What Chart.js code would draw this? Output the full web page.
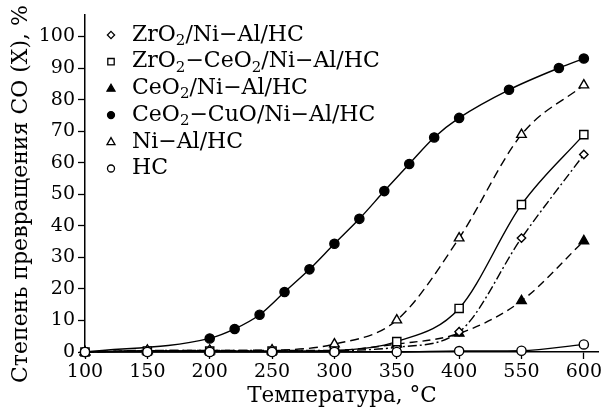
<!DOCTYPE html>
<html>
<head>
<meta charset="utf-8">
<script src="https://cdn.jsdelivr.net/npm/chart.js@4.4.0/dist/chart.umd.min.js"></script>
<style>
  html, body { margin: 0; padding: 0; background: #fff; }
</style>
</head>
<body>
<canvas id="chart" width="606" height="410"></canvas>
<script>
// axis positions (the axis jumps from 400 to 550, so positions are evenly spaced)
const tickPos = [100, 150, 200, 250, 300, 350, 400, 450, 500];
const tickLabels = ['100', '150', '200', '250', '300', '350', '400', '550', '600'];
const yTicks = [0, 10, 20, 30, 40, 50, 60, 70, 80, 90, 100];

const basePos = [100, 150, 200, 250, 300, 350, 400, 450, 500];
const zrO2 = [0, 0.4, 0.5, 0.5, 0.5, 1.5, 6.4, 36.1, 62.6];
const zrCeO2 = [0, 0.3, 0.3, 0.3, 0.5, 3.3, 13.8, 46.7, 68.9];
const ceO2 = [0, 0.3, 0.3, 0.3, 0.5, 2.5, 5.9, 16.2, 35.2];
const niAl = [0, 0.5, 0.5, 0.6, 2.5, 10.1, 36.1, 68.9, 84.6];
const hc = [0, 0, 0, 0, 0, 0, 0.3, 0.4, 2.4];

const cuoPos = [100, 200, 220, 240, 260, 280, 300, 320, 340, 360, 380, 400, 440, 480, 500];
const ceCuO = [0, 4.3, 7.3, 11.8, 19.0, 26.2, 34.3, 42.2, 51.0, 59.6, 68.0, 74.2, 83.1, 90.0, 93.0];

const seriesNames = ['ZrO₂/Ni−Al/HC', 'ZrO₂−CeO₂/Ni−Al/HC', 'CeO₂/Ni−Al/HC',
                     'CeO₂−CuO/Ni−Al/HC', 'Ni−Al/HC', 'HC'];
const yTitle = 'Степень превращения CO (X), %';

const FONT = 'DejaVu Serif';

function pts(xs, ys) {
  return xs.map((x, i) => ({x: x, y: ys[i]}));
}

function series(i, xs, ys, style, radius, filled, dash, order) {
  return {
    label: seriesNames[i],
    data: pts(xs, ys),
    borderColor: '#000',
    borderWidth: 1.4,
    borderDash: dash,
    pointStyle: style,
    pointRadius: radius,
    pointBorderWidth: 1.4,
    pointBorderColor: '#000',
    pointBackgroundColor: filled ? '#000' : '#fff',
    cubicInterpolationMode: 'monotone',
    fill: false,
    clip: false,
    order: order
  };
}

// legend inside the plot (with real subscripts) + y axis title
const legendInside = {
  id: 'legendInside',
  afterDraw(chart) {
    const ctx = chart.ctx;
    const x0 = 111, tx = 132, y0 = 35, dy = 26.7;
    ctx.save();
    chart.data.datasets.forEach((ds, i) => {
      const y = y0 + i * dy;
      // marker
      ctx.lineWidth = 1.3;
      ctx.strokeStyle = '#000';
      ctx.fillStyle = ds.pointBackgroundColor;
      ctx.beginPath();
      const r = 3.6;
      if (ds.pointStyle === 'rectRot') {
        ctx.moveTo(x0, y - r); ctx.lineTo(x0 + r, y); ctx.lineTo(x0, y + r); ctx.lineTo(x0 - r, y); ctx.closePath();
      } else if (ds.pointStyle === 'rect') {
        ctx.rect(x0 - 3.2, y - 3.2, 6.4, 6.4);
      } else if (ds.pointStyle === 'triangle') {
        ctx.moveTo(x0, y - 4.2); ctx.lineTo(x0 + 4, y + 2.8); ctx.lineTo(x0 - 4, y + 2.8); ctx.closePath();
      } else {
        ctx.arc(x0, y, 3.5, 0, Math.PI * 2);
      }
      ctx.fill();
      ctx.stroke();
      // text
      ctx.fillStyle = '#000';
      ctx.textBaseline = 'middle';
      let x = tx;
      for (const ch of ds.label) {
        if (ch === '₂') {
          ctx.font = '15px "' + FONT + '"';
          ctx.fillText('2', x, y + 6);
          x += ctx.measureText('2').width;
        } else {
          ctx.font = '22px "' + FONT + '"';
          ctx.fillText(ch, x, y);
          x += ctx.measureText(ch).width;
        }
      }
    });
    // y title
    ctx.translate(21, 194);
    ctx.rotate(-Math.PI / 2);
    ctx.font = '22px "' + FONT + '"';
    ctx.textAlign = 'center';
    ctx.textBaseline = 'middle';
    ctx.fillText(yTitle, 0, 0);
    ctx.restore();
  }
};

new Chart(document.getElementById('chart'), {
  type: 'line',
  data: {
    datasets: [
      series(0, basePos, zrO2, 'rectRot', 4.2, false, [9, 3, 2, 3], 3),
      series(1, basePos, zrCeO2, 'rect', 5.8, false, [], 2),
      series(2, basePos, ceO2, 'triangle', 5.5, true, [8, 5], 4),
      series(3, cuoPos, ceCuO, 'circle', 4.6, true, [], 5),
      series(4, basePos, niAl, 'triangle', 5.5, false, [9, 5], 1),
      series(5, basePos, hc, 'circle', 4.6, false, [], 0)
    ]
  },
  options: {
    responsive: false,
    animation: false,
    layout: { padding: { top: 12, right: 6, left: 0, bottom: 0 } },
    plugins: {
      legend: { display: false },
      tooltip: { enabled: false }
    },
    scales: {
      x: {
        type: 'linear',
        min: 100,
        max: 512,
        afterBuildTicks: (axis) => { axis.ticks = tickPos.map(v => ({value: v})); },
        afterFit: (axis) => { axis.height = 58; },
        ticks: {
          callback: (v, i) => tickLabels[i],
          color: '#000',
          font: { family: FONT, size: 19 },
          padding: 2,
          maxRotation: 0,
          autoSkip: false
        },
        grid: { drawOnChartArea: false, drawTicks: true, tickLength: 7, tickColor: '#000', tickWidth: 1.3 },
        border: { display: true, color: '#000', width: 1.5 },
        title: {
          display: true,
          text: 'Температура, °C',
          color: '#000',
          font: { family: FONT, size: 21.5 },
          padding: { top: 0, bottom: 1 }
        }
      },
      y: {
        min: 0,
        max: 107,
        afterBuildTicks: (axis) => { axis.ticks = yTicks.map(v => ({value: v})); },
        afterFit: (axis) => { axis.width = 85; },
        ticks: {
          color: '#000',
          font: { family: FONT, size: 19 },
          padding: 3
        },
        grid: { drawOnChartArea: false, drawTicks: true, tickLength: 7, tickColor: '#000', tickWidth: 1.3 },
        border: { display: true, color: '#000', width: 1.5 }
      }
    }
  },
  plugins: [legendInside]
});
</script>
</body>
</html>
